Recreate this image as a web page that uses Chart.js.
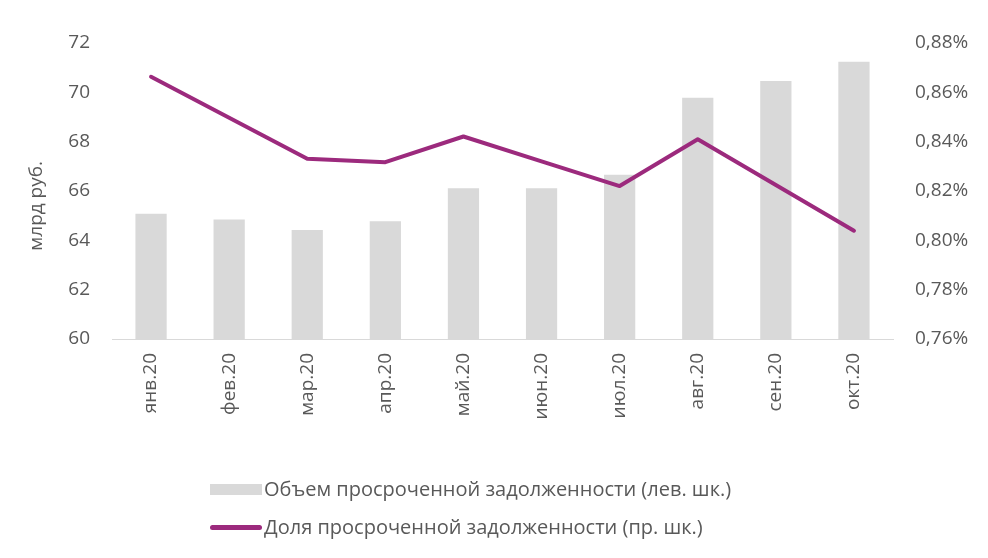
<!DOCTYPE html>
<html>
<head>
<meta charset="utf-8">
<script src="https://cdn.jsdelivr.net/npm/chart.js@4.4.0/dist/chart.umd.min.js"></script>
<style>
  html, body { margin: 0; padding: 0; background: #fff; }
  .wrap { position: relative; width: 988px; height: 558px; font-family: "Open Sans", sans-serif; color: #595959; }
  canvas { position: absolute; left: 0; top: 0; }
  .legend { position: absolute; left: 210px; font-size: 20px; line-height: 24px; }
  .legend .row { display: flex; align-items: center; height: 24px; }
  .legend .sw { width: 52px; margin-right: 2px; }
  .legend .sw.bar { height: 11px; background: #d9d9d9; }
  .legend .sw.line { height: 5px; background: #9c2a7d; border-radius: 3px; }
</style>
</head>
<body>
<div class="wrap">
  <canvas id="chart" width="988" height="558"></canvas>
  <div class="legend" style="top:477px">
    <div class="row"><span class="sw bar"></span>Объем просроченной задолженности (лев. шк.)</div>
  </div>
  <div class="legend" style="top:515px">
    <div class="row"><span class="sw line"></span>Доля просроченной задолженности (пр. шк.)</div>
  </div>
</div>
<script>
const months = ['янв.20', 'фев.20', 'мар.20', 'апр.20', 'май.20', 'июн.20', 'июл.20', 'авг.20', 'сен.20', 'окт.20'];
const volume = [65.08, 64.84, 64.42, 64.77, 66.11, 66.11, 66.66, 69.78, 70.46, 71.24];
const share = [0.8663, 0.8497, 0.8331, 0.8317, 0.8421, 0.832, 0.822, 0.841, 0.8224, 0.8039];

const grey = '#595959';
const font = { family: '"Open Sans", sans-serif', size: 19 };

new Chart(document.getElementById('chart'), {
  data: {
    labels: months,
    datasets: [
      {
        type: 'line',
        label: 'Доля просроченной задолженности (пр. шк.)',
        data: share,
        yAxisID: 'y1',
        borderColor: '#9c2a7d',
        borderWidth: 4,
        pointRadius: 0,
        borderCapStyle: 'round',
        borderJoinStyle: 'round',
        tension: 0,
        order: 0
      },
      {
        type: 'bar',
        label: 'Объем просроченной задолженности (лев. шк.)',
        data: volume,
        yAxisID: 'y',
        backgroundColor: '#d9d9d9',
        categoryPercentage: 1,
        barPercentage: 0.4,
        order: 1
      }
    ]
  },
  options: {
    responsive: false,
    animation: false,
    layout: { padding: { top: 43, bottom: 119, left: 0, right: 0 } },
    plugins: { legend: { display: false }, tooltip: { enabled: false } },
    scales: {
      x: {
        grid: { display: false, drawTicks: false },
        border: { display: true, color: '#d9d9d9', width: 1 },
        ticks: { color: grey, font, minRotation: 90, maxRotation: 90, padding: 14 },
        afterFit: s => { s.height = 100; }
      },
      y: {
        position: 'left',
        min: 60, max: 72,
        ticks: { stepSize: 2, color: grey, font, padding: 22 },
        grid: { display: false, drawTicks: false },
        border: { display: false },
        title: {
          display: true,
          text: 'млрд руб.\u00a0\u00a0\u00a0\u00a0\u00a0\u00a0',
          color: grey,
          font: { family: font.family, size: 19 },
          padding: { top: 25, bottom: 0 }
        },
        afterFit: s => { s.width = 112; }
      },
      y1: {
        position: 'right',
        min: 0.76, max: 0.88,
        ticks: {
          stepSize: 0.02, color: grey, font, padding: 22,
          callback: v => v.toFixed(2).replace('.', ',') + '%'
        },
        grid: { display: false, drawTicks: false },
        border: { display: false },
        afterFit: s => { s.width = 95; }
      }
    }
  }
});
</script>
</body>
</html>
